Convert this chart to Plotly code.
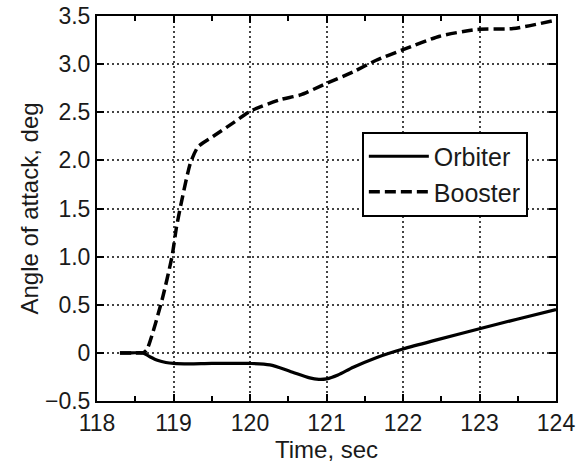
import plotly.graph_objects as go

orbiter_t = [118.3, 118.45, 118.6, 118.69, 118.8, 118.9, 119.0, 119.2, 119.5, 120.0, 120.26, 120.52, 120.78, 120.9, 121.0, 121.15, 121.35, 121.65, 122.0, 122.44, 123.0, 123.49, 124.0]
orbiter_v = [0.0, 0.0, 0.0, -0.04, -0.08, -0.10, -0.11, -0.115, -0.11, -0.11, -0.125, -0.19, -0.26, -0.275, -0.27, -0.23, -0.15, -0.05, 0.04, 0.135, 0.25, 0.35, 0.45]

booster_t = [118.3, 118.45, 118.6, 118.65, 118.85, 118.98, 119.04, 119.11, 119.22, 119.32, 119.52, 119.78, 120.0, 120.39, 120.66, 121.0, 121.35, 121.65, 122.0, 122.48, 122.96, 123.44, 123.96]
booster_v = [0.0, 0.0, 0.0, 0.03, 0.55, 1.0, 1.31, 1.59, 1.97, 2.14, 2.25, 2.39, 2.51, 2.63, 2.68, 2.80, 2.92, 3.04, 3.15, 3.29, 3.36, 3.37, 3.45]

x_ticks = [118, 119, 120, 121, 122, 123, 124]
y_ticks = [-0.5, 0, 0.5, 1.0, 1.5, 2.0, 2.5, 3.0, 3.5]
y_ticktext = ["\u22120.5", "0", "0.5", "1.0", "1.5", "2.0", "2.5", "3.0", "3.5"]

font = "Liberation Sans, Arial, sans-serif"

fig = go.Figure()
fig.add_trace(go.Scatter(x=orbiter_t, y=orbiter_v, mode="lines", name="Orbiter",
                         line=dict(color="black", width=3.2, shape="spline", smoothing=0.8)))
fig.add_trace(go.Scatter(x=booster_t, y=booster_v, mode="lines", name="Booster",
                         line=dict(color="black", width=3.5, dash="11px,5px", shape="spline", smoothing=0.6)))

grid = dict(showgrid=True, gridcolor="#444", griddash="2px,3px", gridwidth=1.6)

fig.update_layout(
    template="none",
    width=576, height=465,
    margin=dict(l=97, r=20, t=16, b=64),
    paper_bgcolor="white", plot_bgcolor="white",
    font=dict(family=font, size=23, color="#1a1a1a"),
    showlegend=True,
    legend=dict(x=0.577, y=0.70, xanchor="left", yanchor="top",
                bordercolor="black", borderwidth=2, bgcolor="white",
                font=dict(size=25), itemwidth=60, tracegroupgap=0),
    xaxis=dict(range=[118, 124], tickvals=x_ticks, ticks="inside", ticklen=7, tickwidth=2,
               tickcolor="black", showline=True, linecolor="black", linewidth=2, mirror="ticks",
               minor=dict(dtick=0.5, ticks="inside", ticklen=5, tickwidth=2, tickcolor="black", showgrid=False),
               zeroline=False, automargin=False,
               title=dict(text="Time, sec", standoff=0, font=dict(size=24)),
               tickfont=dict(size=23), ticklabeloverflow="allow", **grid),
    yaxis=dict(range=[-0.5, 3.5], tickvals=y_ticks, ticktext=y_ticktext, ticks="inside", ticklen=7, tickwidth=2,
               tickcolor="black", showline=True, linecolor="black", linewidth=2, mirror="ticks",
               zeroline=False, automargin=False,
               title=dict(text="Angle of attack, deg", standoff=0, font=dict(size=24)),
               tickfont=dict(size=23), ticklabeloverflow="allow", **grid),
)

fig.write_html("out.html", config={"displayModeBar": False},
               post_script="document.body.style.margin='0';")
